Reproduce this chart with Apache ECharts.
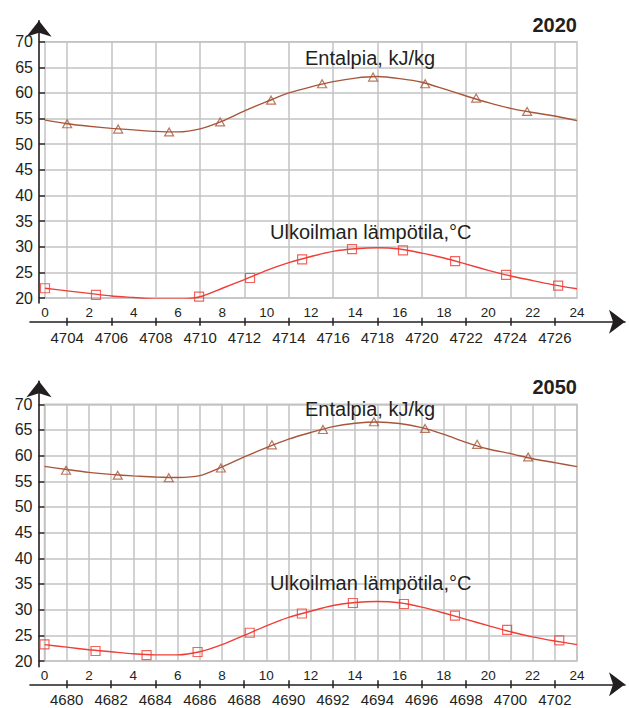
<!DOCTYPE html>
<html><head><meta charset="utf-8">
<script src="https://cdn.jsdelivr.net/npm/echarts@6/dist/echarts.min.js"></script>
<style>html,body{margin:0;padding:0;background:#fff}#c{width:629px;height:708px}</style>
</head><body><div id="c"></div>
<script>
// ---------- data ----------
const hours = [0,1,2,3,4,5,6,7,8,9,10,11,12,13,14,15,16,17,18,19,20,21,22,23,24];
const hourLabels = [0,2,4,6,8,10,12,14,16,18,20,22,24];
const yTicks = [20,25,30,35,40,45,50,55,60,65,70];

// 2020
const title2020 = '2020';
const secTicks2020 = [4704,4706,4708,4710,4712,4714,4716,4718,4720,4722,4724,4726];
const secRange2020 = [4703,4727];
const enth2020 = [54.7,54.0,53.5,53.1,52.8,52.5,52.4,53.0,54.5,56.5,58.3,60.0,61.2,62.2,62.9,63.2,62.8,62.1,60.8,59.4,58.1,57.0,56.2,55.5,54.6];
const enthMarkH2020 = [1.0,3.3,5.6,7.9,10.2,12.5,14.8,17.15,19.45,21.75];
const enthMarkV2020 = [54.0,52.95,52.4,54.35,58.6,61.8,63.1,61.8,59.0,56.4];
const temp2020 = [21.9,21.4,20.9,20.4,20.1,19.8,19.8,20.25,21.9,23.6,25.4,26.9,28.1,29.1,29.6,29.8,29.55,28.75,27.8,26.6,25.4,24.3,23.4,22.5,21.8];
const tempMarkH2020 = [0.0,2.3,6.95,9.25,11.6,13.85,16.15,18.5,20.8,23.15];
const tempMarkV2020 = [21.9,20.6,20.25,23.9,27.55,29.55,29.3,27.2,24.5,22.4];

// 2050
const title2050 = '2050';
const secTicks2050 = [4680,4682,4684,4686,4688,4690,4692,4694,4696,4698,4700,4702];
const secRange2050 = [4679,4703];
const enth2050 = [57.9,57.3,56.75,56.35,56.05,55.85,55.75,56.1,57.8,59.75,61.55,63.2,64.5,65.65,66.3,66.55,66.25,65.45,64.15,62.6,61.3,60.4,59.4,58.65,57.85];
const enthMarkH2050 = [0.97,3.3,5.6,7.95,10.25,12.55,14.85,17.15,19.5,21.8];
const enthMarkV2050 = [57.15,56.2,55.7,57.6,62.1,65.1,66.6,65.3,62.2,59.75];
const temp2050 = [23.2,22.7,22.2,21.8,21.4,21.2,21.2,21.8,23.2,25.0,26.85,28.5,29.7,30.8,31.4,31.6,31.35,30.5,29.35,28.1,26.9,25.7,24.7,23.9,23.2];
const tempMarkH2050 = [0.0,2.3,4.6,6.9,9.25,11.6,13.9,16.2,18.5,20.85,23.2];
const tempMarkV2050 = [23.25,21.95,21.15,21.75,25.5,29.25,31.3,31.1,28.85,26.05,24.0];

const enthLabel = 'Entalpia, kJ/kg';
const tempLabel = 'Ulkoilman lämpötila,°C';

// ---------- styling ----------
const FONT = '"Liberation Sans", Arial, Helvetica, sans-serif';
const TXT = '#231f20';
const GRIDC = '#c3c3c3';
const AXC = '#231f20';
const ENTH = '#a8563a';
const TEMP = '#ee3e36';
const plain = v => String(v);

const option = {
  animation: false,
  backgroundColor: '#fff',
  textStyle: { fontFamily: FONT },
  grid: [],
  xAxis: [],
  yAxis: [],
  series: [],
  graphic: []
};

function addChart(cfg) {
  const g0 = option.grid.length;
  option.grid.push({ left: cfg.left, right: 52, top: cfg.top, height: cfg.height, show: true,
    borderColor: GRIDC, borderWidth: 1.5, backgroundColor: 'transparent', containLabel: false });
  option.grid.push({ left: 39, width: 10, top: cfg.yArrowTop, bottom: cfg.yArrowBottom });
  option.grid.push({ left: 30, right: 4, height: 10, bottom: cfg.xArrowBottom });

  const x0 = option.xAxis.length;
  option.xAxis.push({ type: 'value', gridIndex: g0, min: 0, max: 24, interval: cfg.hourInterval,
    axisLine: { show: false }, axisTick: { show: false },
    splitLine: { show: cfg.hourSplit, lineStyle: { color: GRIDC, width: 1.5 } },
    axisLabel: { show: true, customValues: hourLabels, formatter: plain, margin: 7, fontSize: 13.5, color: TXT, fontFamily: FONT } });
  option.xAxis.push({ type: 'value', gridIndex: g0, min: cfg.secRange[0], max: cfg.secRange[1], position: 'bottom',
    offset: cfg.secOffset,
    axisLine: { show: false },
    axisTick: { show: true, customValues: cfg.secTicks, length: 4, inside: false, lineStyle: { color: AXC, width: 1.5 } },
    splitLine: { show: !cfg.hourSplit, lineStyle: { color: GRIDC, width: 1.5 } },
    axisLabel: { show: true, customValues: cfg.secTicks, formatter: plain, margin: 8, fontSize: 15, color: TXT, fontFamily: FONT } });
  option.xAxis.push({ type: 'value', gridIndex: g0, min: cfg.secRange[0], max: cfg.secRange[1], position: 'bottom',
    offset: cfg.secOffset,
    axisLine: { show: false },
    axisTick: { show: true, customValues: cfg.secTicks, length: 4, inside: true, lineStyle: { color: AXC, width: 1.5 } },
    splitLine: { show: false }, axisLabel: { show: false } });
  option.xAxis.push({ type: 'value', gridIndex: g0 + 1, show: false, min: 0, max: 1 });
  option.xAxis.push({ type: 'value', gridIndex: g0 + 2, min: 0, max: 1, position: 'bottom',
    axisLine: { show: true, symbol: ['none', 'arrow'], symbolSize: [18, 16], lineStyle: { color: AXC, width: 1.6 } },
    axisTick: { show: false }, axisLabel: { show: false }, splitLine: { show: false } });

  const y0 = option.yAxis.length;
  option.yAxis.push({ type: 'value', gridIndex: g0, min: 20, max: 70, interval: 5, offset: 6, position: 'left',
    axisLine: { show: false },
    axisTick: { show: true, length: 6, lineStyle: { color: AXC, width: 1.5 } },
    splitLine: { show: true, lineStyle: { color: GRIDC, width: 1.5 } },
    axisLabel: { show: true, customValues: yTicks, formatter: plain, margin: 6, fontSize: 16, color: TXT, fontFamily: FONT } });
  option.yAxis.push({ type: 'value', gridIndex: g0 + 1, min: 0, max: 1, position: 'left',
    axisLine: { show: true, symbol: ['none', 'arrow'], symbolSize: [19, 16], lineStyle: { color: AXC, width: 1.6 } },
    axisTick: { show: false }, axisLabel: { show: false }, splitLine: { show: false } });
  option.yAxis.push({ type: 'value', gridIndex: g0 + 2, show: false, min: 0, max: 1 });

  const pairs = (xs, ys) => xs.map((x, i) => [x, ys[i]]);
  option.series.push({ type: 'line', xAxisIndex: x0, yAxisIndex: y0, data: pairs(hours, cfg.enth),
    smooth: 0.25, symbol: 'none', lineStyle: { color: ENTH, width: 1.4 }, z: 3 });
  option.series.push({ type: 'line', xAxisIndex: x0, yAxisIndex: y0, data: pairs(hours, cfg.temp),
    smooth: 0.25, symbol: 'none', lineStyle: { color: TEMP, width: 1.4 }, z: 3 });
  option.series.push({ type: 'scatter', xAxisIndex: x0, yAxisIndex: y0, data: pairs(cfg.enthH, cfg.enthV),
    symbol: 'triangle', symbolSize: [9, 8], itemStyle: { color: 'rgba(255,255,255,0)', borderColor: ENTH, borderWidth: 1.2 }, z: 4 });
  option.series.push({ type: 'scatter', xAxisIndex: x0, yAxisIndex: y0, data: pairs(cfg.tempH, cfg.tempV),
    symbol: 'rect', symbolSize: 9, itemStyle: { color: 'rgba(255,255,255,0)', borderColor: TEMP, borderWidth: 1.2 }, z: 4 });

  option.graphic.push({ type: 'text', x: 577, y: cfg.titleY, z: 10,
    style: { text: cfg.title, font: 'bold 20px ' + FONT, fill: TXT, align: 'right', verticalAlign: 'middle' } });
  option.graphic.push({ type: 'text', x: 305, y: cfg.enthLabelY, z: 10,
    style: { text: enthLabel, font: '20px ' + FONT, fill: TXT, align: 'left', verticalAlign: 'middle' } });
  option.graphic.push({ type: 'text', x: 270, y: cfg.tempLabelY, z: 10,
    style: { text: tempLabel, font: '20px ' + FONT, fill: TXT, align: 'left', verticalAlign: 'middle' } });
}

addChart({ left: 45, top: 41.7, height: 256.3, yArrowTop: 20.7, yArrowBottom: 405, xArrowBottom: 386.3,
  hourInterval: 2, hourSplit: false, secRange: secRange2020, secTicks: secTicks2020, secOffset: 23.7,
  enth: enth2020, temp: temp2020, enthH: enthMarkH2020, enthV: enthMarkV2020, tempH: tempMarkH2020, tempV: tempMarkV2020,
  title: title2020, titleY: 25, enthLabelY: 58.3, tempLabelY: 231.5 });
addChart({ left: 44.5, top: 404.3, height: 256.7, yArrowTop: 381.3, yArrowBottom: 41.3, xArrowBottom: 23.7,
  hourInterval: 1, hourSplit: true, secRange: secRange2050, secTicks: secTicks2050, secOffset: 23.3,
  enth: enth2050, temp: temp2050, enthH: enthMarkH2050, enthV: enthMarkV2050, tempH: tempMarkH2050, tempV: tempMarkV2050,
  title: title2050, titleY: 386.7, enthLabelY: 409.3, tempLabelY: 583.3 });

const chart = echarts.init(document.getElementById('c'), null, { renderer: 'svg' });
chart.setOption(option);
</script>
</body></html>
